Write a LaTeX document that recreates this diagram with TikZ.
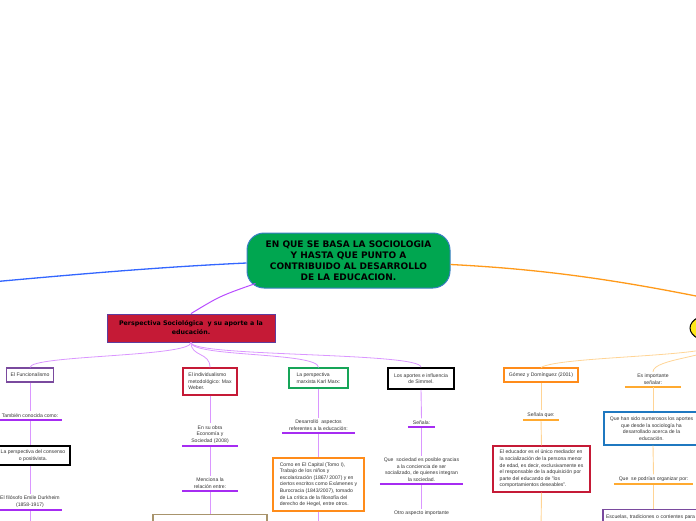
\documentclass[tikz,border=0pt]{standalone}
\usepackage{fontspec}
\setmainfont{Liberation Sans}
\newfontfamily\titlefont{DejaVu Sans}
\usetikzlibrary{shapes.geometric,calc}
\definecolor{cgreen}{HTML}{00A650}
\definecolor{cborder}{HTML}{3A7FC4}
\definecolor{blueline}{HTML}{3366FF}
\definecolor{orline}{HTML}{FF9A1A}
\definecolor{yel}{HTML}{FFE81A}
\definecolor{violetA}{HTML}{B84DFF}
\definecolor{violetB}{HTML}{DA96FF}
\definecolor{violetul}{HTML}{A62CF2}
\definecolor{crim}{HTML}{C51A36}
\definecolor{pborder}{HTML}{5E3C9E}
\definecolor{fpurple}{HTML}{7A4A9E}
\definecolor{mgreen}{HTML}{16A558}
\definecolor{obox}{HTML}{FF8C1A}
\definecolor{bbox}{HTML}{1F78C0}
\definecolor{brownb}{HTML}{A8946C}
\definecolor{orul}{HTML}{FFAA30}
\definecolor{orlight}{HTML}{FFD495}
\definecolor{txt}{HTML}{333333}
\begin{document}
\begin{tikzpicture}[x=1pt,y=-1pt,
  small/.style={font=\fontsize{5.1}{6.6}\selectfont, text=txt},
  lbl/.style={small, align=center, inner xsep=0pt, inner ysep=2.2pt, anchor=south},
  box/.style={small, draw, line width=1.1pt, fill=white, inner sep=3pt, align=center},
  central/.style={rounded corners=17pt, fill=cgreen, draw=cborder, line width=1pt,
    minimum width=203pt, minimum height=55pt, align=center, text=black,
    font=\titlefont\bfseries\fontsize{9}{11}\selectfont, inner sep=0pt},
  persp/.style={fill=crim, draw=pborder, line width=0.9pt, minimum width=168pt,
    minimum height=28pt, align=center, text=black,
    font=\titlefont\bfseries\fontsize{6.3}{9}\selectfont, inner sep=0pt},
  fan/.style={draw=violetB, line width=0.8pt},
  vv/.style={draw=violetB, line width=0.9pt},
  vo/.style={draw=orlight, line width=0.9pt},
  lorfan/.style={draw=orlight, line width=0.8pt},
  ulv/.style={draw=violetul, line width=1.8pt},
  ulo/.style={draw=orul, line width=1.8pt}
]
\useasboundingbox (0,0) rectangle (696,520);
\clip (0,0) rectangle (696,520);

% central and main branches
\node[central] (c) at (348.5,260.5) {EN QUE SE BASA LA SOCIOLOGIA\\Y HASTA QUE PUNTO A\\CONTRIBUIDO AL DESARROLLO\\DE LA EDUCACION.};
\node[ellipse, fill=yel, draw=black, line width=1pt, minimum width=56pt, minimum height=30pt, inner sep=0pt] (y) at (718,328) {};
\coordinate (bl) at (-3,281.5);
\coordinate (oe) at (745,306);
\draw[blueline, line width=1.3pt] ($(c.west)+(0,2.5)$) .. controls (160,267) and (80,274) .. (bl);
\draw[orline, line width=1.3pt] ($(c.east)+(0,4)$) .. controls (560,270) and (640,284) .. (oe);

\node[persp] (p) at (191,328) {Perspectiva Sociológica~ y su aporte a la\\educación.};
\draw[violetA, line width=1pt] ($(c.south west)+(9,-5)$) .. controls (220,296) .. (p.north);

% first level children
\node[box, draw=fpurple, minimum width=47pt, minimum height=14pt] (f) at (30,375) {El Funcionalismo};
\node[box, draw=crim, minimum width=54pt, minimum height=27pt, align=left] (w) at (210,381.5) {El individualismo\\metodológico: Max\\Weber.};
\node[box, draw=mgreen, minimum width=59pt, minimum height=20pt, align=left] (m) at (318.5,378) {La perspectiva\\marxista Karl Marx:};
\node[box, draw=black, line width=1.5pt, minimum width=66pt, minimum height=21pt] (s) at (421,378.5) {Los aportes e influencia\\de Simmel.};
\node[box, draw=obox, minimum width=74pt, minimum height=14pt] (g) at (541,375) {Gómez y Domínguez (2001)};
\node[lbl, minimum width=56pt] (e0) at (653,387) {Es importante\\señalar:};
\draw[ulo] (e0.south west) -- (e0.south east);

\draw[fan] (p.south) .. controls (191,357) and (30,355) .. (f.north);
\draw[fan] (p.south) .. controls (191,357) and (210,352) .. (w.north);
\draw[fan] (p.south) .. controls (191,357) and (318.5,352) .. (m.north);
\draw[fan] (p.south) .. controls (191,357) and (421,352) .. (s.north);
\draw[lorfan] (y.south) .. controls (718,357) and (560,356) .. (g.north);
\draw[lorfan] (y.south) .. controls (718,357) and (653,358) .. (e0.north);

% Funcionalismo column
\node[lbl, minimum width=63pt] (f1) at (30,420) {También conocida como:};
\node[box, draw=black, line width=1.6pt, minimum width=74pt, minimum height=19pt] (f2) at (33,455.5) {La perspectiva del consenso\\o positivista.};
\node[lbl, minimum width=64pt] (f3) at (30,510) {El filósofo Emile Durkheim\\(1858-1917)};
\coordinate (f4) at (30,530);
\draw[vv] (f.south) -- (f1.north);
\draw[vv] (f1.south) -- (f1.south |- f2.north);
\draw[vv] (f1.south |- f2.south) -- (f3.north);
\draw[vv] (f3.south) -- (f4);
\draw[ulv] (f1.south west) -- (f1.south east);
\draw[ulv] (f3.south west) -- (f3.south east);

% Weber column
\node[lbl, minimum width=55pt] (w1) at (210,446) {En su obra\\Economía y\\Sociedad (2008)};
\node[lbl, minimum width=55pt] (w2) at (210,491) {Menciona la\\relación entre:};
\node[box, draw=brownb, line width=1.3pt, minimum width=114pt, minimum height=30pt, anchor=north] (w3) at (210,514) {};
\draw[vv] (w.south) -- (w1.north);
\draw[vv] (w1.south) -- (w2.north);
\draw[vv] (w2.south) -- (w3.north);
\draw[ulv] (w1.south west) -- (w1.south east);
\draw[ulv] (w2.south west) -- (w2.south east);

% Marx column
\node[lbl, minimum width=72pt] (m1) at (318.5,433) {Desarrolló~ aspectos\\referentes a la educación:};
\node[box, draw=obox, line width=1.3pt, minimum width=91pt, minimum height=53pt, align=left] (m2) at (318.5,484.5) {Como en El Capital (Tomo I),\\Trabajo de los niños y\\escolarización (1867/ 2007) y en\\ciertos escritos como Exámenes y\\Burocracia (1843/2007), tomado\\de La crítica de la filosofía del\\derecho de Hegel, entre otros.};
\coordinate (m3) at (318.5,530);
\draw[vv] (m.south) -- (m1.north);
\draw[vv] (m1.south) -- (m2.north);
\draw[vv] (m2.south) -- (m3);
\draw[ulv] (m1.south west) -- (m1.south east);

% Simmel column
\node[lbl, minimum width=27pt] (s1) at (421.5,427) {Señala:};
\node[lbl, minimum width=83pt] (s2) at (421.5,484) {Que~ sociedad es posible gracias\\a la conciencia de ser\\socializado, de quienes integran\\la sociedad.};
\node[small, anchor=north, inner sep=2pt] (s3) at (421.5,509) {Otro aspecto importante};
\draw[vv] (s.south) -- (s1.north);
\draw[vv] (s1.south) -- (s2.north);
\draw[vv] (s2.south) -- (s3.north);
\draw[ulv] (s1.south west) -- (s1.south east);
\draw[ulv] (s2.south west) -- (s2.south east);

% Gomez column
\node[lbl, minimum width=36pt] (g1) at (541,420) {Señala que:};
\node[box, draw=crim, line width=1.3pt, minimum width=97pt, minimum height=46pt, align=left] (g2) at (541.5,469) {El educador es el único mediador en\\la socialización de la persona menor\\de edad, es decir, exclusivamente es\\el responsable de la adquisición por\\parte del educando de "los\\comportamientos deseables".};
\coordinate (g3) at (541,530);
\draw[vo] (g.south) -- (g1.north);
\draw[vo] (g1.south) -- (g2.north);
\draw[vo] (g2.south) -- (g3);
\draw[ulo] (g1.south west) -- (g1.south east);

% Es importante column
\node[box, draw=bbox, line width=1.4pt, minimum width=95pt, minimum height=33pt] (e1) at (651.5,428.5) {Que han sido numerosos los aportes\\que desde la sociología ha\\desarrollado acerca de la\\educación.};
\node[lbl, minimum width=79pt] (e2) at (653.5,484) {Que~ se podrían organizar por:};
\node[box, draw=fpurple, line width=1.3pt, anchor=north, align=left, text width=94pt, minimum height=16pt] (e3) at (653,509) {Escuelas, tradiciones o corrientes para};
\draw[vo] (e0.south) -- (e0.south |- e1.north);
\draw[vo] (e0.south |- e1.south) -- (e2.north);
\draw[vo] (e2.south) -- (e2.south |- e3.north);
\draw[ulo] (e2.south west) -- (e2.south east);
\end{tikzpicture}
\end{document}
